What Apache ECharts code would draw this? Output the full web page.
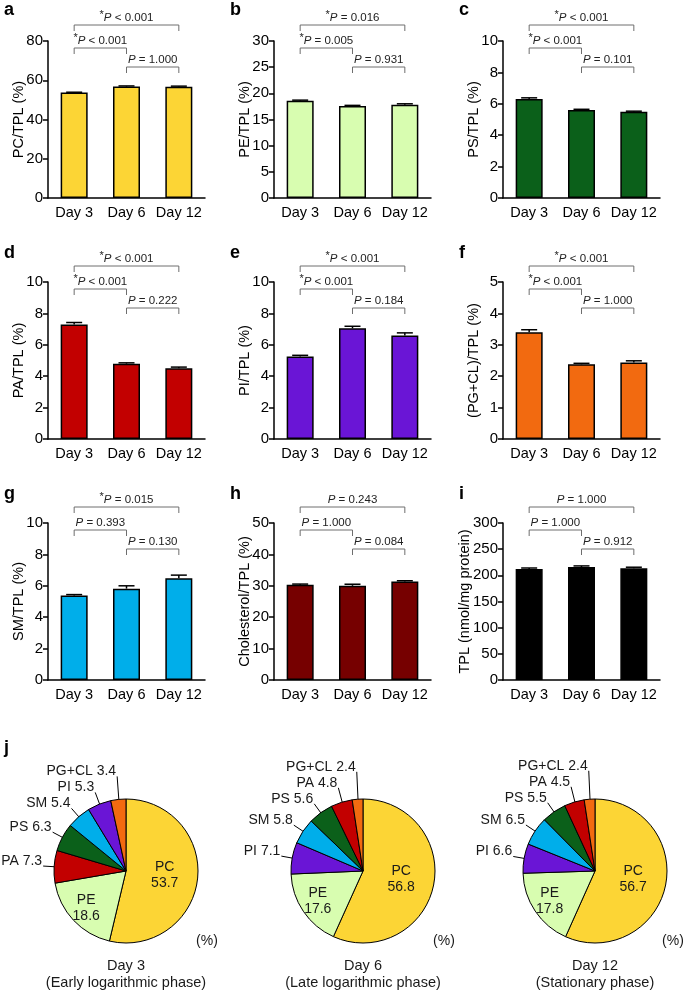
<!DOCTYPE html>
<html><head><meta charset="utf-8">
<script src="https://cdn.jsdelivr.net/npm/echarts@6/dist/echarts.min.js"></script>
<style>html,body{margin:0;padding:0;background:#fff}#c{width:685px;height:992px}</style>
</head><body><div id="c"></div>
<script>
// ---------- data ----------
const days = ['Day 3', 'Day 6', 'Day 12'];

const pcVals = [53.7, 56.8, 56.7];  const pcErr = [0.2, 0.3, 0.3];
const peVals = [18.6, 17.6, 17.8];  const peErr = [0.1, 0.1, 0.2];
const psVals = [6.3, 5.6, 5.5];     const psErr = [0.08, 0.05, 0.03];
const paVals = [7.3, 4.8, 4.5];     const paErr = [0.12, 0.05, 0.08];
const piVals = [5.25, 7.05, 6.6];   const piErr = [0.08, 0.13, 0.16];
const pgVals = [3.4, 2.38, 2.44];   const pgErr = [0.08, 0.03, 0.05];
const smVals = [5.38, 5.82, 6.48];  const smErr = [0.06, 0.18, 0.2];
const chVals = [30.3, 30.0, 31.4];  const chErr = [0.25, 0.5, 0.2];
const tplVals = [212, 216, 213.5];  const tplErr = [2, 2, 2];

// comparisons: [Day3 vs Day12, Day3 vs Day6, Day6 vs Day12]
const pairs = [[0, 2], [0, 1], [1, 2]];
const pcP  = ['*P < 0.001', '*P < 0.001', 'P = 1.000'];
const peP  = ['*P = 0.016', '*P = 0.005', 'P = 0.931'];
const psP  = ['*P < 0.001', '*P < 0.001', 'P = 0.101'];
const paP  = ['*P < 0.001', '*P < 0.001', 'P = 0.222'];
const piP  = ['*P < 0.001', '*P < 0.001', 'P = 0.184'];
const pgP  = ['*P < 0.001', '*P < 0.001', 'P = 1.000'];
const smP  = ['*P = 0.015', 'P = 0.393', 'P = 0.130'];
const chP  = ['P = 0.243', 'P = 1.000', 'P = 0.084'];
const tplP = ['P = 1.000', 'P = 1.000', 'P = 0.912'];

const pieNames3  = ['PC', 'PE', 'PA', 'PS', 'SM', 'PI', 'PG+CL'];
const pieVals3   = [53.7, 18.6, 7.3, 6.3, 5.4, 5.3, 3.4];
const pieNames6  = ['PC', 'PE', 'PI', 'SM', 'PS', 'PA', 'PG+CL'];
const pieVals6   = [56.8, 17.6, 7.1, 5.8, 5.6, 4.8, 2.4];
const pieNames12 = ['PC', 'PE', 'PI', 'SM', 'PS', 'PA', 'PG+CL'];
const pieVals12  = [56.7, 17.8, 6.6, 6.5, 5.5, 4.5, 2.4];
const pieCaptions = ['Day 3\n(Early logarithmic phase)', 'Day 6\n(Late logarithmic phase)', 'Day 12\n(Stationary phase)'];

// ---------- style ----------
const FONT = '"Liberation Sans", Arial, Helvetica, sans-serif';
const colors = {
  PC: '#fcd535', PE: '#d8fdb0', PS: '#0b601a', PA: '#c20000', PI: '#6a15d6',
  'PG+CL': '#f26a10', SM: '#00aeea', CH: '#760000', TPL: '#000000'
};
const panels = [
  { letter: 'a', name: 'PC/TPL (%)', vals: pcVals, err: pcErr, p: pcP, max: 80, interval: 20, color: colors.PC },
  { letter: 'b', name: 'PE/TPL (%)', vals: peVals, err: peErr, p: peP, max: 30, interval: 5, color: colors.PE },
  { letter: 'c', name: 'PS/TPL (%)', vals: psVals, err: psErr, p: psP, max: 10, interval: 2, color: colors.PS },
  { letter: 'd', name: 'PA/TPL (%)', vals: paVals, err: paErr, p: paP, max: 10, interval: 2, color: colors.PA },
  { letter: 'e', name: 'PI/TPL (%)', vals: piVals, err: piErr, p: piP, max: 10, interval: 2, color: colors.PI },
  { letter: 'f', name: '(PG+CL)/TPL (%)', vals: pgVals, err: pgErr, p: pgP, max: 5, interval: 1, color: colors['PG+CL'] },
  { letter: 'g', name: 'SM/TPL (%)', vals: smVals, err: smErr, p: smP, max: 10, interval: 2, color: colors.SM },
  { letter: 'h', name: 'Cholesterol/TPL (%)', vals: chVals, err: chErr, p: chP, max: 50, interval: 10, color: colors.CH },
  { letter: 'i', name: 'TPL (nmol/mg protein)', vals: tplVals, err: tplErr, p: tplP, max: 300, interval: 50, color: colors.TPL, nameGap: 31 }
];
const colLeft = [48, 274, 503], rowTop = [41, 282, 523], GW = 157, GH = 157;
const bracketOffsets = [-16, 7, 26];

function pRich(s) {
  let out = '';
  if (s[0] === '*') { out += '{s|*}'; s = s.slice(1); }
  return out + '{i|P}{n|' + s.slice(1) + '}';
}

const grid = [], xAxis = [], yAxis = [], series = [], graphic = [];

panels.forEach((pn, k) => {
  const r = Math.floor(k / 3), c = k % 3;
  grid.push({ left: colLeft[c], top: rowTop[r], width: GW, height: GH });
  xAxis.push({
    type: 'category', gridIndex: k, data: days,
    axisTick: { show: false },
    axisLine: { show: true, lineStyle: { color: '#000', width: 1.5 } },
    axisLabel: { color: '#000', fontSize: 14.5, fontFamily: FONT, margin: 7, interval: 0 }
  });
  yAxis.push({
    type: 'value', gridIndex: k, min: 0, max: pn.max, interval: pn.interval,
    name: pn.name, nameLocation: 'middle', nameGap: pn.nameGap || 22, nameMoveOverlap: false,
    nameTextStyle: { color: '#000', fontSize: 14.5, fontFamily: FONT },
    axisLine: { show: true, lineStyle: { color: '#000', width: 1.5 } },
    axisTick: { show: true, inside: false, length: 5, lineStyle: { color: '#000', width: 1.5 } },
    splitLine: { show: false },
    axisLabel: { color: '#000', fontSize: 15, fontFamily: FONT, margin: 5 }
  });
  series.push({
    type: 'bar', xAxisIndex: k, yAxisIndex: k, data: pn.vals, barWidth: 27, silent: true,
    itemStyle: { color: pn.color, borderColor: '#000', borderWidth: 1.5 }
  });
  series.push({
    type: 'custom', xAxisIndex: k, yAxisIndex: k, silent: true, z: 5,
    data: pn.vals.map((v, i) => [i, v, pn.err[i]]),
    renderItem: function (params, api) {
      const x = api.value(0), v = api.value(1), e = api.value(2);
      const p0 = api.coord([x, v]), p1 = api.coord([x, v + e]);
      const hw = 8;
      return { type: 'group', children: [
        { type: 'line', shape: { x1: p0[0], y1: p0[1], x2: p1[0], y2: p1[1] }, style: { stroke: '#000', lineWidth: 1.5 } },
        { type: 'line', shape: { x1: p1[0] - hw, y1: p1[1], x2: p1[0] + hw, y2: p1[1] }, style: { stroke: '#000', lineWidth: 1.5 } }
      ]};
    }
  });
  series.push({
    type: 'custom', xAxisIndex: k, yAxisIndex: k, silent: true, z: 6, clip: false,
    data: pairs.map((pr, j) => [pr[0], pr[1], j]),
    renderItem: function (params, api) {
      const a = api.value(0), b = api.value(1), j = api.value(2);
      const top = api.coord([0, pn.max])[1];
      const y = top + bracketOffsets[j];
      const x1 = api.coord([a, 0])[0], x2 = api.coord([b, 0])[0];
      const tick = 6;
      return { type: 'group', children: [
        { type: 'polyline', shape: { points: [[x1, y + tick], [x1, y], [x2, y], [x2, y + tick]] },
          style: { stroke: '#6e6e6e', lineWidth: 1, fill: null } },
        { type: 'text', x: (x1 + x2) / 2, y: y - 7, style: {
            text: pRich(pn.p[j]), align: 'center', verticalAlign: 'middle',
            fontFamily: FONT, fontSize: 11.5, fill: '#222',
            rich: {
              s: { fontSize: 11, fontFamily: FONT, fill: '#222', padding: [0, 0, 6, 0] },
              i: { fontSize: 11.5, fontFamily: FONT, fontStyle: 'italic', fill: '#222' },
              n: { fontSize: 11.5, fontFamily: FONT, fill: '#222' }
            } } }
      ]};
    }
  });
  graphic.push({ type: 'text', left: colLeft[c] - 44, top: rowTop[r] - 40 + (r === 0 ? 0 : 2),
    style: { text: pn.letter, fontSize: 18, fontWeight: 'bold', fontFamily: FONT, fill: '#000' } });
});

// ---------- pies ----------
const pieCenters = [[126, 871], [363, 871], [595, 871]];
const PIE_R = 72, LABEL_R = 83, INNER_F = 0.8, MIN_GAP = 16;
const pieSets = [[pieNames3, pieVals3], [pieNames6, pieVals6], [pieNames12, pieVals12]];

function pieAnchors(vals, ctr) {
  const total = vals.reduce((a, b) => a + b, 0);
  let cum = 0;
  const res = vals.map(v => {
    const mid = (cum + v / 2) / total * 2 * Math.PI; cum += v;
    const dx = Math.sin(mid), dy = -Math.cos(mid);
    return { x: ctr[0] + LABEL_R * dx, y: ctr[1] + LABEL_R * dy,
             ix: ctr[0] + PIE_R * INNER_F * dx, iy: ctr[1] + PIE_R * INNER_F * dy };
  });
  for (let i = 3; i < res.length; i++) {
    if (res[i].y > res[i - 1].y - MIN_GAP) res[i].y = res[i - 1].y - MIN_GAP;
  }
  return res;
}

pieSets.forEach((ps, q) => {
  const [names, vals] = ps;
  const ctr = pieCenters[q];
  const anchors = pieAnchors(vals, ctr);
  series.push({
    type: 'pie', center: ctr, radius: PIE_R, startAngle: 90, clockwise: true, silent: true,
    avoidLabelOverlap: false,
    itemStyle: { borderColor: '#000', borderWidth: 1 },
    label: { show: true, position: 'outside', formatter: '{b} {c}', fontSize: 14, fontFamily: FONT, color: '#1a1a1a', overflow: 'none' },
    labelLine: { show: true, length: 10, length2: 2, lineStyle: { color: '#000', width: 1 } },
    labelLayout: function (params) {
      const i = params.dataIndex;
      const name = names[i];
      if (name === 'PE') {
        const lr = params.labelRect;
        const lx = lr.x + lr.width / 2, ly = lr.y + lr.height / 2;
        const f = 0.4;
        return { dx: (lx - ctr[0]) * f, dy: (ly - ctr[1]) * f };
      }
      if (name === 'PC') return {};
      const a = anchors[i];
      return {
        x: a.x - 1, y: a.y + 2, align: 'right', verticalAlign: 'bottom',
        labelLinePoints: [[a.x, a.y], [a.x, a.y], [a.ix, a.iy]]
      };
    },
    data: names.map((n, i) => {
      const item = { name: n, value: vals[i], itemStyle: { color: colors[n] } };
      if (n === 'PC' || n === 'PE') {
        item.label = { position: 'inside', formatter: '{b}\n{c}', lineHeight: 16, fontSize: 14 };
        item.labelLine = { show: false };
      }
      return item;
    })
  });
  graphic.push({ type: 'text', x: Math.min(ctr[0] + 81, 673), y: ctr[1] + 70,
    style: { text: '(%)', fontSize: 14, fontFamily: FONT, fill: '#1a1a1a', align: 'center', verticalAlign: 'middle' } });
  graphic.push({ type: 'text', x: ctr[0], y: ctr[1] + 103.5,
    style: { text: pieCaptions[q], fontSize: 14.5, lineHeight: 17, fontFamily: FONT, fill: '#1a1a1a', align: 'center', verticalAlign: 'middle' } });
});
graphic.push({ type: 'text', left: 4, top: 739,
  style: { text: 'j', fontSize: 18, fontWeight: 'bold', fontFamily: FONT, fill: '#000' } });

const chart = echarts.init(document.getElementById('c'), null, { renderer: 'canvas' });
chart.setOption({
  animation: false,
  backgroundColor: '#fff',
  textStyle: { fontFamily: FONT },
  grid, xAxis, yAxis, series, graphic
});
</script>
</body></html>
